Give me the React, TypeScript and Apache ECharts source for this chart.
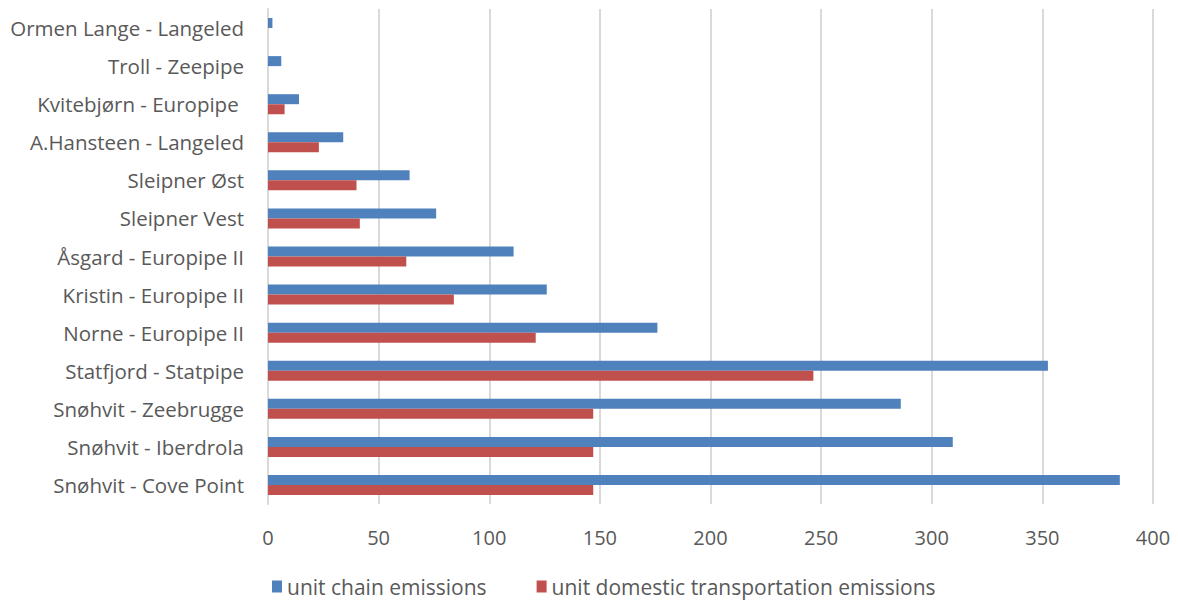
import React, { useEffect, useRef } from "react";
import * as echarts from "echarts";

const categories = [
  "Ormen Lange - Langeled",
  "Troll - Zeepipe",
  "Kvitebjørn - Europipe ",
  "A.Hansteen - Langeled",
  "Sleipner Øst",
  "Sleipner Vest",
  "Åsgard - Europipe II",
  "Kristin - Europipe II",
  "Norne - Europipe II",
  "Statfjord - Statpipe",
  "Snøhvit - Zeebrugge",
  "Snøhvit - Iberdrola",
  "Snøhvit - Cove Point",
];
const chainEmissions = [2, 6, 14, 34, 64, 76, 111, 126, 176, 352.5, 286, 309.5, 385];
const domesticEmissions = [0, 0, 7.5, 23, 40, 41.5, 62.5, 84, 121, 246.5, 147, 147, 147];
const xTicks = [0, 50, 100, 150, 200, 250, 300, 350, 400];

const FONT = "'Open Sans', 'Noto Sans', sans-serif";

export default function App() {
  const ref = useRef<HTMLDivElement>(null);
  useEffect(() => {
    if (!ref.current) return;
    const chart = echarts.init(ref.current, null, { renderer: "svg" });
    chart.setOption({
      animation: false,
      textStyle: { fontFamily: FONT },
      grid: { left: 260, right: 25, top: 1, bottom: 97, outerBoundsMode: "none", containLabel: false },
      legend: {
        top: 563,
        left: 259,
        itemWidth: 10,
        itemHeight: 12,
        itemGap: 50,
        icon: "rect",
        textStyle: { fontSize: 21, color: "#595959", fontFamily: FONT },
        data: ["unit chain emissions", "unit domestic transportation emissions"],
      },
      xAxis: {
        type: "value",
        min: xTicks[0],
        max: xTicks[xTicks.length - 1],
        interval: 50,
        axisLine: { show: false },
        axisTick: { show: false },
        splitLine: { show: true, lineStyle: { color: "#d9d9d9", width: 2 } },
        axisLabel: { fontSize: 20, color: "#595959", margin: 23, fontFamily: FONT },
      },
      yAxis: {
        type: "category",
        inverse: true,
        data: categories,
        axisLine: { show: true, lineStyle: { color: "#d9d9d9", width: 2 } },
        axisTick: { show: false },
        axisLabel: { fontSize: 20.5, color: "#595959", margin: 24, fontFamily: FONT },
      },
      series: [
        {
          name: "unit chain emissions",
          type: "bar",
          data: chainEmissions,
          barWidth: 10,
          barGap: "0%",
          itemStyle: { color: "#4f81bd" },
        },
        {
          name: "unit domestic transportation emissions",
          type: "bar",
          data: domesticEmissions,
          barWidth: 10,
          barGap: "0%",
          itemStyle: { color: "#c0504d" },
        },
      ],
    });
    return () => chart.dispose();
  }, []);
  return <div ref={ref} style={{ width: 1170, height: 593 }} />;
}
